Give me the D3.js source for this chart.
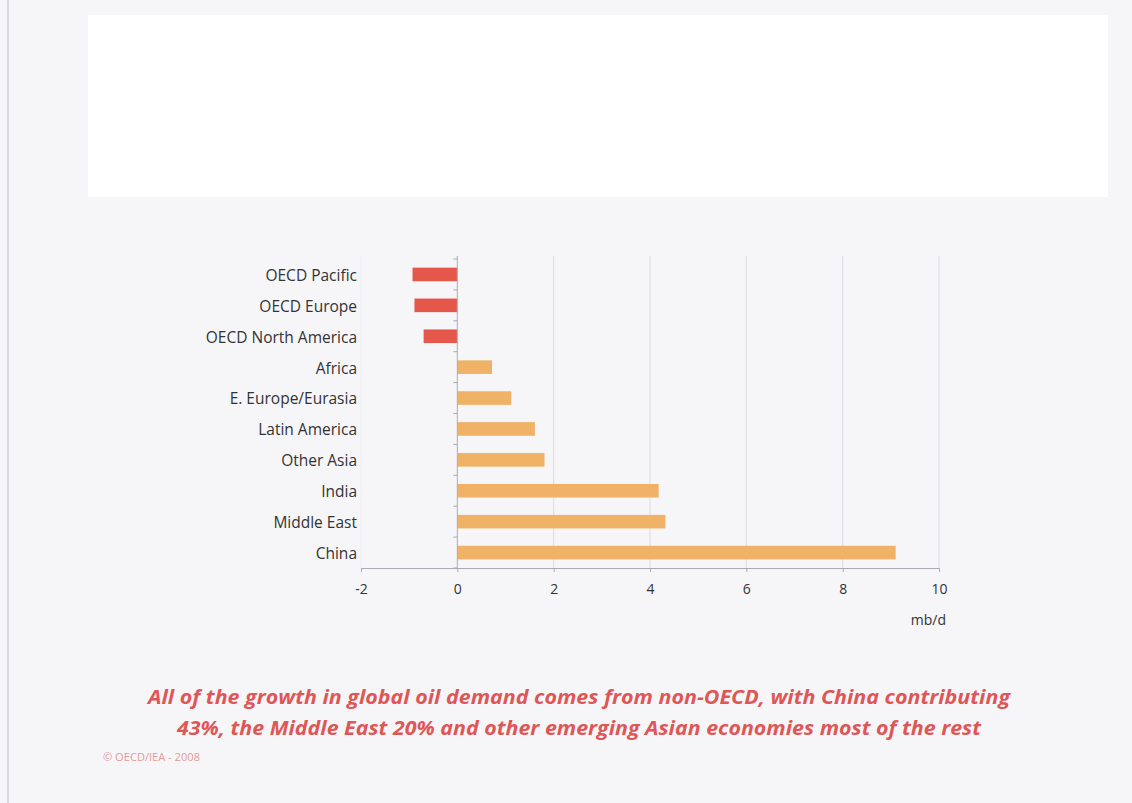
<!DOCTYPE html>
<html><head><meta charset="utf-8">
<script src="https://cdn.jsdelivr.net/npm/d3@7"></script>
<style>html,body{margin:0;padding:0;background:#f6f6f9;}svg{display:block;}</style>
</head><body>
<svg id="c" width="1132" height="803"></svg>
<script>
const categories = ["OECD Pacific","OECD Europe","OECD North America","Africa","E. Europe/Eurasia","Latin America","Other Asia","India","Middle East","China"];
const values = [-0.93,-0.89,-0.70,0.72,1.12,1.61,1.81,4.18,4.32,9.10];
const xTicks = [-2,0,2,4,6,8,10];
const unitLabel = "mb/d";
const captionLines = ["All of the growth in global oil demand comes from non-OECD, with China contributing","43%, the Middle East 20% and other emerging Asian economies most of the rest"];
const copyright = "© OECD/IEA - 2008";

const svg = d3.select("#c");
svg.append("rect").attr("x",0).attr("y",0).attr("width",1132).attr("height",803).attr("fill","#f6f6f9");
svg.append("line").attr("x1",8).attr("x2",8).attr("y1",0).attr("y2",803).attr("stroke","#d0d0d4").attr("stroke-width",1.5);
svg.append("rect").attr("x",88).attr("y",15).attr("width",1020).attr("height",182).attr("fill","#ffffff");

const pL = 361, pR = 939, pT = 259, pB = 568;
const x = d3.scaleLinear().domain([-2,10]).range([pL,pR]);
const y = d3.scaleBand().domain(categories).range([pT,pB]).paddingInner(0.56).paddingOuter(0.28);

const g = svg.append("g");
g.selectAll(".grid").data(xTicks.filter(d=>d!==0)).enter().append("line")
  .attr("x1",d=>x(d)).attr("x2",d=>x(d)).attr("y1",pT-3).attr("y2",pB)
  .attr("stroke",d=>d===-2?"#ececf0":"#dcdce0").attr("stroke-width",1);

g.selectAll(".bar").data(values).enter().append("rect")
  .attr("x",d=>x(Math.min(0,d))).attr("width",d=>Math.abs(x(d)-x(0)))
  .attr("y",(d,i)=>y(categories[i])).attr("height",y.bandwidth())
  .attr("fill",d=>d<0?"#e6574b":"#efb266");

const xa = svg.append("g").attr("transform",`translate(0,${pB})`)
  .call(d3.axisBottom(x).tickValues(xTicks).tickSize(4).tickPadding(12).tickFormat(d=>String(d)));
xa.select(".domain").attr("stroke","#a9acb4");
xa.selectAll(".tick line").attr("stroke","#a9acb4");
xa.selectAll("text").attr("font-family","'Open Sans', sans-serif").attr("font-size",14).attr("fill","#333");

const yTickPos = d3.range(categories.length+1).map(i=>pT + i*(pB-pT)/categories.length);
svg.append("line").attr("x1",x(0)).attr("x2",x(0)).attr("y1",pT-3).attr("y2",pB).attr("stroke","#a9acb4");
svg.selectAll(".ytick").data(yTickPos).enter().append("line")
  .attr("x1",x(0)-4).attr("x2",x(0)).attr("y1",d=>d).attr("y2",d=>d).attr("stroke","#a9acb4");

svg.selectAll(".cat").data(categories).enter().append("text")
  .attr("x",357).attr("y",d=>y(d)+y.bandwidth()/2+1).attr("dy","0.35em")
  .attr("text-anchor","end").attr("font-family","'Open Sans', sans-serif").attr("font-size",15.5).attr("fill","#333")
  .text(d=>d);

svg.append("text").attr("x",946).attr("y",625).attr("text-anchor","end")
  .attr("font-family","'Open Sans', sans-serif").attr("font-size",14).attr("fill","#333").text(unitLabel);

const capW = [862, 804];
svg.selectAll(".cap").data(captionLines).enter().append("text")
  .attr("x",579).attr("y",(d,i)=>704+i*31).attr("text-anchor","middle")
  .attr("font-family","'Open Sans', sans-serif").attr("font-style","italic").attr("font-weight","bold")
  .attr("font-size",19).attr("fill","#df5656")
  .attr("textLength",(d,i)=>capW[i]).attr("lengthAdjust","spacingAndGlyphs")
  .text(d=>d);

svg.append("text").attr("x",103).attr("y",761).attr("font-family","'Open Sans', sans-serif")
  .attr("font-size",10).attr("fill","#e39a9a").attr("textLength",97).attr("lengthAdjust","spacingAndGlyphs").text(copyright);
</script>
</body></html>
